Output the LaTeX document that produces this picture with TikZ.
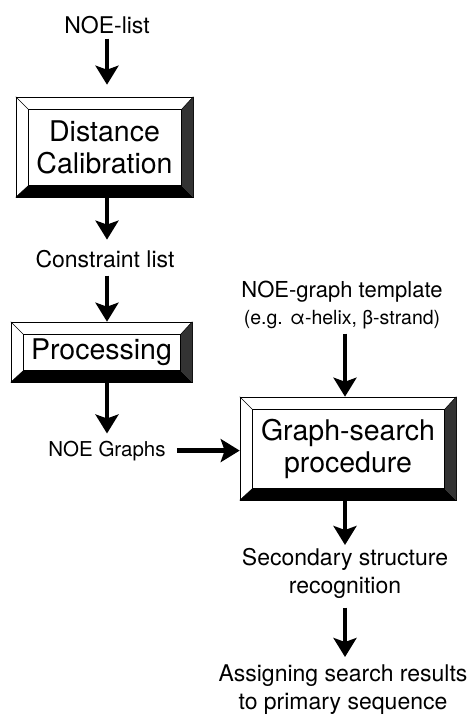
\documentclass[tikz,border=0pt]{standalone}
\usepackage{fontspec}
\setmainfont{TeX Gyre Heros}
\usetikzlibrary{arrows.meta, positioning, calc}

% raised frame round a box node: light top/left, dark right/bottom
\newcommand{\bevelframe}[1]{%
  \fill[black!80] (#1.north east) -- (#1.south east) -- ($(#1.south east)+(-12,-12)$) -- ($(#1.north east)+(-12,13)$) -- cycle;
  \fill[black] (#1.south west) -- (#1.south east) -- ($(#1.south east)+(-12,-12)$) -- ($(#1.south west)+(13,-12)$) -- cycle;
  \draw[line width=0.6pt] ($(#1.north west)+(13,13)$) rectangle ($(#1.south east)+(-12,-12)$);
  \draw[line width=0.5pt] (#1.north west) -- ($(#1.north west)+(13,13)$);
  \draw[line width=0.5pt] (#1.north east) -- ($(#1.north east)+(-12,13)$);
  \draw[line width=0.5pt] (#1.south west) -- ($(#1.south west)+(13,-12)$);
}

\begin{document}
\begin{tikzpicture}[
    x=1pt, y=-1pt,
    bevelbox/.style={rectangle, draw, line width=0.6pt, fill=white, align=center, font=\fontsize{28.5}{32}\selectfont},
    flowtext/.style={inner sep=3pt, align=center, font=\fontsize{23}{28}\selectfont},
    arrow/.style={-{Stealth[length=19pt, width=23pt, inset=4pt]}, line width=4.5pt}
]
\useasboundingbox (0,0) rectangle (471,715);

% left column
\node[flowtext, anchor=base] (noelist) at (107,33) {NOE-list};
\node[bevelbox, minimum width=177pt, minimum height=100pt] (calib) at (104.5,147) {Distance\\Calibration};
\node[flowtext, anchor=base] (constraint) at (105,267) {Constraint list};
\node[bevelbox, minimum width=181pt, minimum height=60pt] (proc) at (101.5,352) {Processing};
\node[flowtext, anchor=base, font=\fontsize{20.5}{24}\selectfont] (graphs) at (107,456) {NOE Graphs};

% right column
\node[flowtext, anchor=base, font=\fontsize{22}{26}\selectfont] (template) at (342,297) {NOE-graph template};
\node[flowtext, anchor=base, font=\fontsize{19.5}{22}\selectfont] (example) at (342,324) {(e.g. α-helix, β-strand)};
\node[bevelbox, minimum width=216pt, minimum height=103pt] (search) at (348,448.5) {Graph-search\\procedure};
\node[flowtext, anchor=north] (secondary) at (345,545) {Secondary structure\\recognition};
\node[flowtext, anchor=north] (assign) at (343,662) {Assigning search results\\to primary sequence};

\bevelframe{calib}
\bevelframe{proc}
\bevelframe{search}

\draw[arrow, shorten <=2pt, shorten >=12pt] (noelist.south) -- (noelist.south |- calib.north);
\draw[arrow, shorten >=7pt] (noelist |- calib.south) -- (noelist |- constraint.north);
\draw[arrow, shorten <=5pt] (noelist |- constraint.south) -- (noelist |- proc.north);
\draw[arrow, shorten >=4pt] (graphs |- proc.south) -- (graphs.north);
\draw[arrow, shorten <=8pt] (graphs.east) -- (graphs.east -| search.west);
\draw[arrow, shorten <=2pt] (secondary |- example.south) -- (secondary |- search.north);
\draw[arrow] (secondary |- search.south) -- (secondary.north);
\draw[arrow, shorten <=6pt, shorten >=5pt] (secondary.south) -- (secondary.south |- assign.north);

\end{tikzpicture}
\end{document}
